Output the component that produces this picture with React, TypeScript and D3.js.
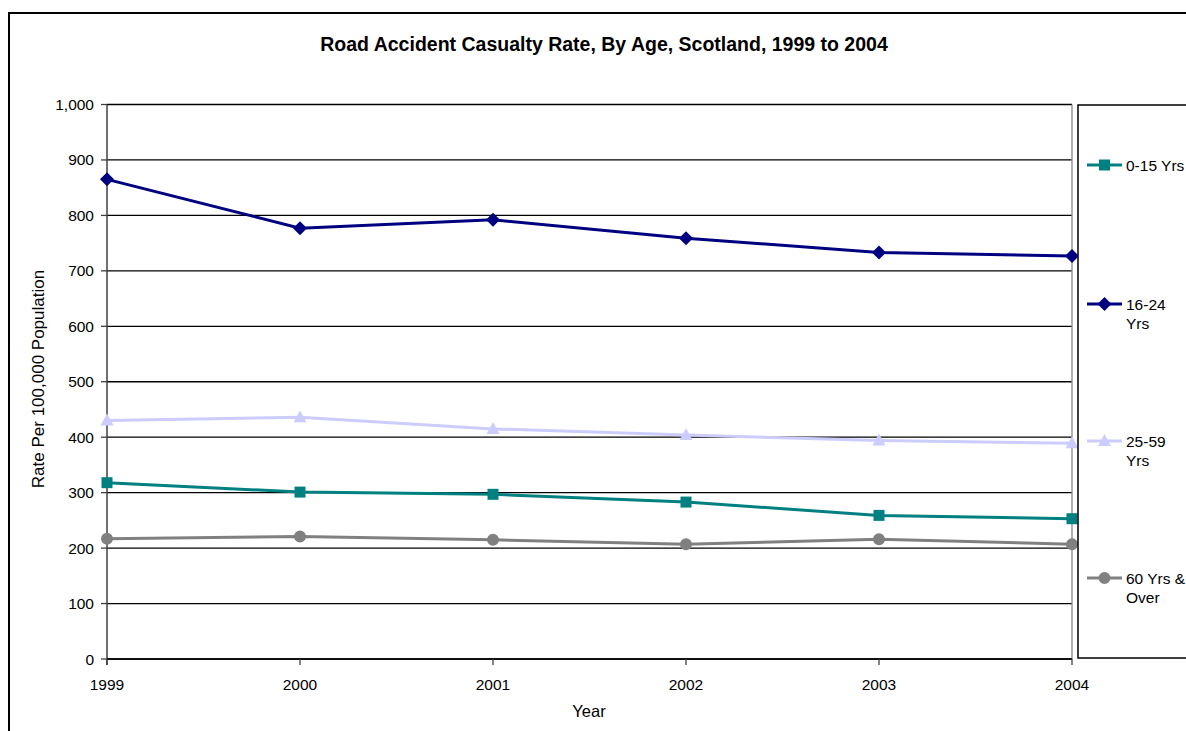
import React from "react";
import * as d3 from "d3";

const years = ["1999", "2000", "2001", "2002", "2003", "2004"];
const yTicks = [0, 100, 200, 300, 400, 500, 600, 700, 800, 900, 1000];
const seriesNames = ["0-15 Yrs", "16-24 Yrs", "25-59 Yrs", "60 Yrs & Over"];
const v0_15 = [318, 301, 297, 283, 259, 253];
const v16_24 = [865, 777, 792, 759, 733, 727];
const v25_59 = [430, 436, 415, 404, 394, 389];
const v60 = [217, 221, 215, 207, 216, 207];

const W = 1186, H = 731;
const L = 107, R = 1072, T = 104.5, B = 659;
const FONT = "Arial, 'Liberation Sans', sans-serif";

const series = [
  { name: seriesNames[0], values: v0_15, color: "#008080", marker: "square", legendY: 165, lines: ["0-15 Yrs"] },
  { name: seriesNames[1], values: v16_24, color: "#000080", marker: "diamond", legendY: 304, lines: ["16-24", "Yrs"] },
  { name: seriesNames[2], values: v25_59, color: "#CCCCFF", marker: "triangle", legendY: 441, lines: ["25-59", "Yrs"] },
  { name: seriesNames[3], values: v60, color: "#808080", marker: "circle", legendY: 578, lines: ["60 Yrs &", "Over"] },
];

function Marker({ type, x, y, color }: { type: string; x: number; y: number; color: string }) {
  let p = "";
  if (type === "square") p = "M-5.5,-5.5H5.5V5.5H-5.5Z";
  else if (type === "diamond") p = "M0,-7L7,0L0,7L-7,0Z";
  else if (type === "triangle") p = "M0,-7L6.5,5L-6.5,5Z";
  else p = d3.symbol(d3.symbolCircle, 113)() as string;
  return <path d={p} transform={`translate(${x},${y})`} fill={color} stroke="none" />;
}

export default function App() {
  const x = d3.scalePoint<string>().domain(years).range([L, R]);
  const y = d3.scaleLinear().domain([0, 1000]).range([B, T]);
  const fmt = d3.format(",");
  const line = d3.line<number>().x((_, i) => x(years[i]) as number).y((d) => y(d));

  return (
    <svg width={W} height={H} style={{ position: "absolute", left: 0, top: 0, background: "#fff" }}>
      <rect x={0} y={0} width={W} height={H} fill="#fff" />
      <rect x={9} y={13} width={W + 20} height={H + 20} fill="none" stroke="#000" strokeWidth={2} />
      <text x={604} y={51} textAnchor="middle" fontFamily={FONT} fontWeight="bold" fontSize={19.5}>
        Road Accident Casualty Rate, By Age, Scotland, 1999 to 2004
      </text>
      {/* gridlines */}
      {yTicks.map((t) => (
        <line key={t} x1={L} x2={R} y1={y(t)} y2={y(t)} stroke="#000" strokeWidth={1.3} />
      ))}
      <line x1={R} x2={R} y1={T} y2={B} stroke="#888" strokeWidth={1.3} />
      {/* y axis */}
      <line x1={L} x2={L} y1={T} y2={B + 6} stroke="#404040" strokeWidth={1.5} />
      {yTicks.map((t) => (
        <g key={"yt" + t}>
          <line x1={L - 6} x2={L} y1={y(t)} y2={y(t)} stroke="#404040" strokeWidth={1.3} />
          <text x={L - 13} y={y(t) + 5.5} textAnchor="end" fontFamily={FONT} fontSize={15.5}>{fmt(t)}</text>
        </g>
      ))}
      {/* x axis */}
      <line x1={L} x2={R} y1={B} y2={B} stroke="#000" strokeWidth={1.5} />
      {years.map((yr) => (
        <g key={yr}>
          <line x1={x(yr)} x2={x(yr)} y1={B} y2={B + 6} stroke="#404040" strokeWidth={1.3} />
          <text x={x(yr)} y={B + 31} textAnchor="middle" fontFamily={FONT} fontSize={15.5}>{yr}</text>
        </g>
      ))}
      <text x={589} y={717} textAnchor="middle" fontFamily={FONT} fontSize={16.5}>Year</text>
      <text transform={`translate(44,${379}) rotate(-90)`} textAnchor="middle" fontFamily={FONT} fontSize={17}>
        Rate Per 100,000 Population
      </text>
      {/* series */}
      {series.map((s) => (
        <g key={s.name}>
          <path d={line(s.values) as string} fill="none" stroke={s.color} strokeWidth={3} />
          {s.values.map((v, i) => (
            <Marker key={i} type={s.marker} x={x(years[i]) as number} y={y(v)} color={s.color} />
          ))}
        </g>
      ))}
      {/* legend */}
      <rect x={1078} y={105} width={200} height={553} fill="#fff" stroke="#000" strokeWidth={1.5} />
      {series.map((s) => (
        <g key={"lg" + s.name}>
          <line x1={1087} x2={1122} y1={s.legendY} y2={s.legendY} stroke={s.color} strokeWidth={3} />
          <Marker type={s.marker} x={1104.5} y={s.legendY} color={s.color} />
          {s.lines.map((ln, j) => (
            <text key={j} x={1126} y={s.legendY + 6 + j * 18.5} fontFamily={FONT} fontSize={15.5}>{ln}</text>
          ))}
        </g>
      ))}
    </svg>
  );
}
